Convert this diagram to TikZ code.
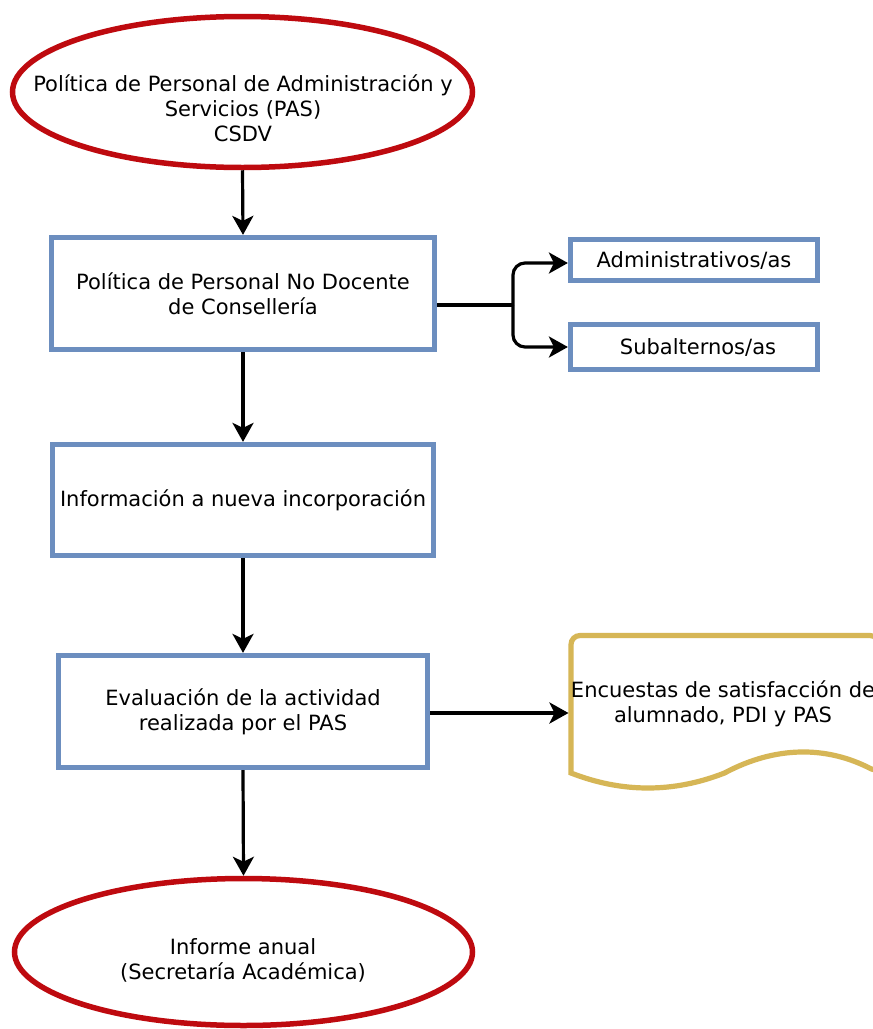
\documentclass[tikz,border=0pt]{standalone}
\usepackage{fontspec}
\setmainfont{DejaVu Sans}
\usetikzlibrary{arrows.meta,shapes.geometric,calc}
\definecolor{ered}{RGB}{190,10,15}
\definecolor{eblue}{RGB}{108,142,191}
\definecolor{egold}{RGB}{214,182,86}
\begin{document}
\begin{tikzpicture}[x=1pt,y=-1pt,
  txt/.style={font=\fontsize{21}{25}\selectfont, align=center, inner sep=0pt},
  bbox/.style={draw=eblue, line width=5.2pt, rectangle, inner sep=0pt, txt},
  oval/.style={draw=ered, line width=5.5pt, ellipse, inner sep=0pt},
  conn/.style={draw=black, line width=3.2pt},
  arr/.style={conn, -{Stealth[length=19pt,width=21pt,inset=5pt]}}]
\useasboundingbox (0,0) rectangle (873,1029);
\clip (0,0) rectangle (873,1029);
\fill[white] (0,0) rectangle (873,1029);

\node[oval, minimum width=460pt, minimum height=151pt] (e1) at (242.5,92) {};
\node[txt] (e1t) at (243,108) {Política de Personal de Administración y\\Servicios (PAS)\\CSDV};

\node[bbox, minimum width=383pt, minimum height=112pt] (b1) at (243,293.5) {Política de Personal No Docente\\de Consellería};
\node[bbox, minimum width=247pt, minimum height=41pt] (adm) at (694,260) {Administrativos/as};
\node[bbox, minimum width=247pt, minimum height=45pt] (sub) at (694,347) {\hspace{8pt}Subalternos/as};
\node[bbox, minimum width=381pt, minimum height=111pt] (b3) at (243,500) {Información a nueva incorporación};
\node[bbox, minimum width=369pt, minimum height=112pt] (b4) at (243,711.5) {Evaluación de la actividad\\realizada por el PAS};

\draw[draw=egold, line width=5.2pt, rounded corners=9pt]
  (571,773) -- (571,635.5) -- (879,635.5) -- (879,773) [sharp corners]
  .. controls (826.7,745.7) and (775.5,745.7) .. (724.5,773)
  .. controls (673.5,793) and (622.3,793) .. (571,773) -- cycle;
\node[txt] (doct) at (723,704) {Encuestas de satisfacción de\\alumnado, PDI y PAS};
\coordinate (docw) at (568.5,713);

\node[oval, minimum width=458pt, minimum height=147pt] (e2) at (243.5,952) {};
\node[txt] (e2t) at (243,960) {Informe anual\\(Secretaría Académica)};

\draw[arr] (e1.south) -- (b1.north);
\draw[arr] (b1.south) -- (b3.north);
\draw[arr] (b3.south) -- (b4.north);
\draw[arr] (b4.south) -- (e2.north);
\draw[arr] (b4.east |- docw) -- (docw);

\coordinate (br) at (513,305);
\draw[conn] (b1.east |- br) -- (br);
\draw[arr, rounded corners=12pt] (br) |- ($(adm.west)+(0,3)$);
\draw[arr, rounded corners=12pt] (br) |- (sub.west);
\end{tikzpicture}
\end{document}
